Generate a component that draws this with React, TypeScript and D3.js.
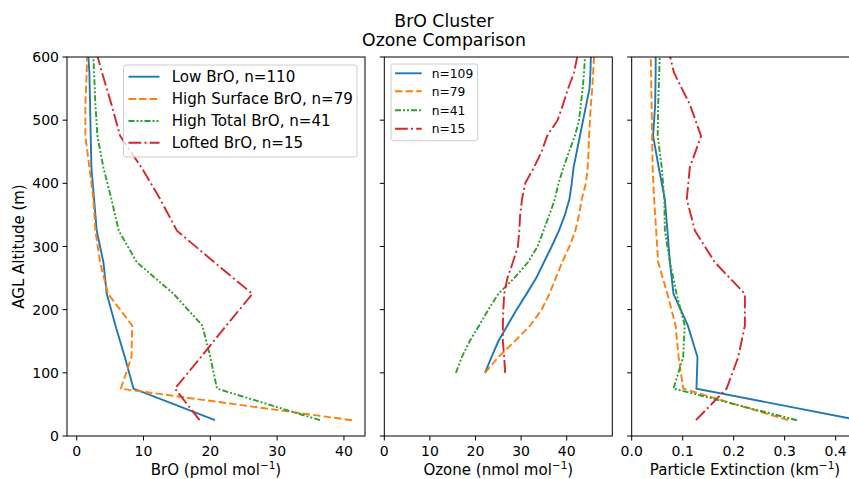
import React from "react";
import * as d3 from "d3";

// ---------- data ----------
const altBrO = [25, 75, 125, 175, 225, 275, 325, 375, 425, 475, 525, 575, 625];
const broLow = [20.7, 8.5, 7.2, 5.8, 4.5, 4.0, 3.0, 2.6, 2.2, 2.1, 2.0, 1.9, 1.6];
const broHighSurf = [41.2, 6.6, 8.2, 8.3, 4.7, 3.5, 2.8, 2.5, 1.9, 1.3, 1.3, 1.5, 1.6];
const broHighTot = [36.4, 21.0, 20.0, 18.8, 14.5, 9.0, 6.3, 5.2, 4.0, 3.1, 2.8, 2.6, 2.4];
const broLofted = [18.4, 14.7, 18.6, 22.4, 26.3, 20.6, 15.0, 12.5, 9.7, 6.5, 5.2, 3.8, 2.5];

const altO3 = [100, 125, 150, 175, 200, 225, 250, 275, 300, 325, 350, 375, 400, 425, 450, 475, 500, 525, 550, 575, 600];
const o3Low = [22.1, 23.5, 25.0, 27.0, 29.0, 31.2, 33.3, 35.0, 36.7, 38.3, 39.6, 40.6, 41.1, 41.5, 42.2, 42.9, 43.6, 44.3, 45.0, 45.2, 45.3];
const o3HighSurf = [22.1, 25.0, 28.6, 32.0, 34.5, 36.2, 37.6, 39.0, 40.6, 41.9, 42.7, 43.3, 44.2, 44.6, 44.8, 44.9, 45.1, 45.3, 45.6, 45.8, 46.0];
const o3HighTot = [15.7, 17.0, 18.7, 20.8, 22.8, 25.0, 28.5, 31.5, 33.6, 34.9, 36.2, 37.4, 38.2, 39.3, 40.5, 41.8, 42.7, 43.1, 43.5, 43.8, 44.0];
const o3Lofted = [26.5, 26.3, 26.0, 26.0, 26.1, 26.3, 27.0, 28.2, 29.3, 29.6, 29.8, 30.2, 30.9, 32.8, 34.5, 35.7, 38.0, 39.2, 40.3, 41.6, 42.3];

const altExt = [25, 75, 125, 175, 225, 275, 325, 375, 425, 475, 525, 575, 625];
const extLow = [0.445, 0.127, 0.129, 0.110, 0.082, 0.075, 0.070, 0.065, 0.053, 0.042, 0.046, 0.047, 0.047];
const extHighSurf = [0.307, 0.101, 0.092, 0.086, 0.070, 0.052, 0.048, 0.044, 0.041, 0.040, 0.039, 0.038, 0.037];
const extHighTot = [0.324, 0.082, 0.101, 0.104, 0.088, 0.075, 0.065, 0.064, 0.059, 0.051, 0.052, 0.054, 0.056];
const extLofted = [0.126, 0.186, 0.209, 0.222, 0.222, 0.163, 0.124, 0.108, 0.114, 0.136, 0.114, 0.083, 0.068];

const legend1 = ["Low BrO, n=110", "High Surface BrO, n=79", "High Total BrO, n=41", "Lofted BrO, n=15"];
const legend2 = ["n=109", "n=79", "n=41", "n=15"];
const yTicks = [0, 100, 200, 300, 400, 500, 600];
const broTicks = [0, 10, 20, 30, 40];
const o3Ticks = [0, 10, 20, 30, 40];
const extTicks = [0, 0.1, 0.2, 0.3, 0.4];

// ---------- styles ----------
const colors = ["#1f77b4", "#ff7f0e", "#2ca02c", "#d62728"];
const dashes = ["none", "7.4,3.2", "6,2,2,2,2,2", "12.8,3.2,2,3.2"];
const FONT = "DejaVu Sans, sans-serif";
const LW = 1.9;

const W = 849, H = 479;
const top = 57, bottom = 436;

const yScale = d3.scaleLinear().domain([0, 600]).range([bottom, top]);

type Panel = {
  id: string;
  x0: number;
  x1: number;
  domain: [number, number];
  ticks: number[];
  fmt: (v: number) => string;
  label: string;
  alt: number[];
  series: number[][];
};

const panels: Panel[] = [
  { id: "p1", x0: 67, x1: 365, domain: [-1.45, 43.15], ticks: broTicks, fmt: (v) => String(v), label: "BrO (pmol mol", alt: altBrO, series: [broLow, broHighSurf, broHighTot, broLofted] },
  { id: "p2", x0: 384.3, x1: 612.3, domain: [0, 50], ticks: o3Ticks, fmt: (v) => String(v), label: "Ozone (nmol mol", alt: altO3, series: [o3Low, o3HighSurf, o3HighTot, o3Lofted] },
  { id: "p3", x0: 631.7, x1: 868.8, domain: [0, 0.465], ticks: extTicks, fmt: (v) => v.toFixed(1), label: "Particle Extinction (km", alt: altExt, series: [extLow, extHighSurf, extHighTot, extLofted] },
];

function PanelView({ p, index }: { p: Panel; index: number }) {
  const x = d3.scaleLinear().domain(p.domain).range([p.x0, p.x1]);
  const line = d3
    .line<[number, number]>()
    .x((d) => x(d[0]))
    .y((d) => yScale(d[1]));
  const labelCx = index === 2 ? 745 : (p.x0 + p.x1) / 2;
  return (
    <g>
      <defs>
        <clipPath id={"clip-" + p.id}>
          <rect x={p.x0} y={top} width={p.x1 - p.x0} height={bottom - top} />
        </clipPath>
      </defs>
      <g clipPath={`url(#clip-${p.id})`}>
        {p.series.map((s, i) => (
          <path
            key={i}
            d={line(s.map((v, j) => [v, p.alt[j]] as [number, number])) || ""}
            fill="none"
            stroke={colors[i]}
            strokeWidth={LW}
            strokeDasharray={dashes[i]}
          />
        ))}
      </g>
      <rect x={p.x0} y={top} width={p.x1 - p.x0} height={bottom - top} fill="none" stroke="#000" strokeWidth={1} />
      {/* x ticks */}
      {p.ticks.map((t) => (
        <g key={t}>
          <line x1={x(t)} x2={x(t)} y1={bottom} y2={bottom + 4.5} stroke="#000" strokeWidth={1} />
          <text x={x(t)} y={456} textAnchor="middle" fontSize={14} fontFamily={FONT} fill="#000">
            {p.fmt(t)}
          </text>
        </g>
      ))}
      {/* y ticks */}
      {yTicks.map((t) => (
        <g key={t}>
          <line x1={p.x0 - 4.5} x2={p.x0} y1={yScale(t)} y2={yScale(t)} stroke="#000" strokeWidth={1} />
          {index === 0 && (
            <text x={p.x0 - 8} y={yScale(t) + 5} textAnchor="end" fontSize={14} fontFamily={FONT} fill="#000">
              {t}
            </text>
          )}
        </g>
      ))}
      <text x={labelCx} y={475} textAnchor="middle" fontSize={15} fontFamily={FONT} fill="#000">
        {p.label}
        <tspan fontSize={10.5} dy={-6}>−1</tspan>
        <tspan dy={6}>)</tspan>
      </text>
    </g>
  );
}

function Legend({ x, y, w, h, rowY, lineX0, lineX1, textX, labels, fontSize }: any) {
  return (
    <g>
      <rect x={x} y={y} width={w} height={h} rx={2.5} fill="#fff" fillOpacity={0.8} stroke="#cccccc" strokeWidth={1} />
      {labels.map((l: string, i: number) => (
        <g key={l}>
          <line x1={lineX0} x2={lineX1} y1={rowY[i]} y2={rowY[i]} stroke={colors[i]} strokeWidth={LW} strokeDasharray={dashes[i]} />
          <text x={textX} y={rowY[i] + fontSize * 0.36} fontSize={fontSize} fontFamily={FONT} fill="#000">
            {l}
          </text>
        </g>
      ))}
    </g>
  );
}

export default function App() {
  return (
    <svg width={W} height={H} style={{ position: "absolute", left: 0, top: 0, background: "#fff" }}>
      <rect x={0} y={0} width={W} height={H} fill="#fff" />
      {panels.map((p, i) => (
        <PanelView key={p.id} p={p} index={i} />
      ))}
      <text x={444} y={26.5} textAnchor="middle" fontSize={17.3} fontFamily={FONT} fill="#000">BrO Cluster</text>
      <text x={444} y={45.5} textAnchor="middle" fontSize={17.3} fontFamily={FONT} fill="#000">Ozone Comparison</text>
      <text transform="translate(24,246.5) rotate(-90)" textAnchor="middle" fontSize={15} fontFamily={FONT} fill="#000">
        AGL Altitude (m)
      </text>
      <Legend x={123.5} y={65} w={233.5} h={92} rowY={[76.7, 99, 121, 142.7]} lineX0={128.5} lineX1={159.5} textX={171.7} labels={legend1} fontSize={15.1} />
      <Legend x={391} y={64} w={86.7} h={76.7} rowY={[73.3, 91.3, 110.3, 128.7]} lineX0={395} lineX1={421.7} textX={431.7} labels={legend2} fontSize={12.3} />
    </svg>
  );
}
